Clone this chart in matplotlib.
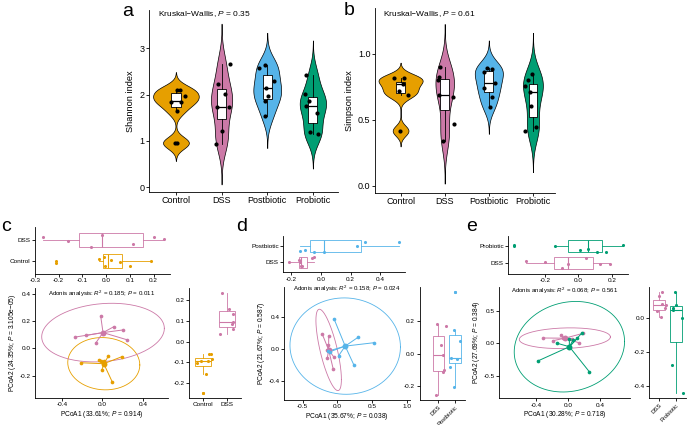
"""Alpha diversity violins (a, b) and pairwise PCoA panels (c, d, e)."""

import numpy as np
import matplotlib

matplotlib.use("Agg")
import matplotlib.pyplot as plt
from matplotlib.ticker import FormatStrFormatter

W, H = 688, 425

GROUPS = ["Control", "DSS", "Postbiotic", "Probiotic"]
COLORS = {"Control": "#E69F00", "DSS": "#CC79A7", "Postbiotic": "#56B4E9", "Probiotic": "#009E73"}

# ---- a: Shannon index (group order = GROUPS) ----
SHANNON = [
    [2.10, 2.10, 1.97, 1.85, 1.85, 1.64, 0.96, 0.95],
    [2.66, 2.22, 2.02, 1.73, 1.73, 1.21, 0.93],
    [2.58, 2.64, 2.29, 2.14, 1.98, 1.86, 1.54],
    [2.42, 2.02, 1.75, 1.87, 1.60, 1.18, 1.15],
]
SHANNON_JIT = [
    [0.09, 0.02, 0.19, -0.10, 0.12, 0.02, -0.02, 0.02],
    [0.19, -0.08, 0.07, -0.11, 0.17, 0.01, -0.12],
    [-0.18, -0.06, 0.15, -0.02, 0.01, -0.05, -0.05],
    [-0.16, -0.18, -0.16, -0.09, 0.08, -0.07, 0.12],
]
SHANNON_Q1 = [1.74, 1.47, 1.91, 1.39]
SHANNON_MED = [1.87, 1.73, 2.14, 1.75]
SHANNON_Q3 = [2.03, 2.11, 2.42, 1.94]
SHANNON_LO = [1.64, 0.93, 1.54, 1.15]
SHANNON_HI = [2.10, 2.66, 2.64, 2.42]

# ---- b: Simpson index ----
SIMPSON = [
    [0.815, 0.815, 0.772, 0.721, 0.686, 0.418],
    [0.904, 0.826, 0.803, 0.692, 0.671, 0.467, 0.340],
    [0.896, 0.886, 0.861, 0.782, 0.744, 0.676, 0.600],
    [0.846, 0.803, 0.757, 0.714, 0.605, 0.418, 0.443],
]
SIMPSON_JIT = [
    [-0.15, 0.08, 0.05, -0.04, 0.17, -0.01],
    [-0.10, -0.14, -0.15, -0.14, 0.19, 0.20, -0.05],
    [-0.04, 0.08, -0.12, 0.13, -0.10, 0.08, 0.03],
    [-0.02, -0.11, -0.17, -0.06, -0.05, -0.17, 0.08],
]
SIMPSON_Q1 = [0.706, 0.572, 0.711, 0.524]
SIMPSON_MED = [0.770, 0.689, 0.782, 0.714]
SIMPSON_Q3 = [0.790, 0.808, 0.871, 0.775]
SIMPSON_LO = [0.686, 0.340, 0.600, 0.418]
SIMPSON_HI = [0.815, 0.904, 0.896, 0.846]

# ---- c: Control vs DSS ----
C_CTRL_X = [-0.21, -0.03, -0.01, -0.003, 0.02, 0.059, 0.099, 0.191]
C_CTRL_Y = [-0.106, -0.084, -0.096, -0.157, -0.092, -0.059, -0.248, -0.062]
C_DSS_X = [-0.267, -0.161, -0.065, -0.016, 0.113, 0.201, 0.244]
C_DSS_Y = [0.083, 0.095, 0.039, 0.237, 0.159, 0.135, 0.063]
C_TOP_JIT = [[-0.10, 0.08, 0.20, -0.22, 0.03, -0.06, -0.25, 0.0],
             [0.13, -0.05, -0.35, 0.24, -0.20, 0.13, 0.03]]
C_RIGHT_JIT = [[-0.26, 0.38, 0.19, 0.12, -0.10, 0.33, -0.03, 0.26],
               [0.21, 0.28, -0.29, -0.21, 0.11, 0.26, 0.28]]

# ---- d: DSS vs Postbiotic ----
D_DSS_X = [-0.216, -0.149, -0.144, -0.134, -0.124, -0.058, -0.048]
D_DSS_Y = [0.183, -0.012, -0.112, 0.05, 0.165, -0.252, -0.103]
D_POST_X = [-0.139, -0.105, -0.048, 0.02, 0.241, 0.299, 0.53]
D_POST_Y = [-0.029, -0.034, 0.376, -0.083, -0.202, 0.145, 0.078]
D_TOP_JIT = [[0.0, 0.14, 0.04, -0.25, -0.25, 0.25, 0.30],
             [-0.31, -0.25, -0.35, -0.35, -0.03, 0.23, 0.23]]
D_RIGHT_JIT = [[-0.06, 0.26, 0.24, 0.13, 0.42, -0.12, 0.32],
               [-0.25, 0.10, 0.0, -0.29, -0.06, -0.06, 0.25]]

# ---- e: DSS vs Probiotic ----
E_DSS_X = [-0.314, -0.196, -0.095, -0.063, 0.043, 0.131, 0.188]
E_DSS_Y = [0.082, 0.04, 0.128, 0.077, 0.062, 0.009, 0.155]
E_PRO_X = [-0.385, -0.138, 0.013, 0.059, 0.113, 0.168, 0.264]
E_PRO_Y = [-0.274, 0.0, 0.062, 0.051, 0.077, 0.155, -0.44]
E_TOP_JIT = [[0.15, 0.06, -0.25, -0.04, 0.29, -0.06, -0.06],
             [0.06, 0.02, -0.23, -0.17, -0.33, -0.37, 0.06]]
E_RIGHT_JIT = [[0.20, -0.10, 0.0, 0.42, 0.36, 0.10, 0.16],
               [-0.20, 0.40, -0.14, -0.18, 0.0, -0.04, 0.45]]

# 95% quantile of F(2, n-1), used for the stat_ellipse radius
F95 = {6: 5.1433, 7: 4.7374}

plt.rcParams["font.family"] = ["Liberation Sans", "DejaVu Sans"]
plt.rcParams["mathtext.fontset"] = "custom"
plt.rcParams["mathtext.rm"] = "Liberation Sans"
plt.rcParams["mathtext.it"] = "Liberation Sans:italic"
plt.rcParams["axes.unicode_minus"] = False


def add_axes_px(fig, x0, y0, x1, y1):
    """Axes from pixel box (top-left origin)."""
    return fig.add_axes([x0 / W, 1 - y1 / H, (x1 - x0) / W, (y1 - y0) / H])


def fig_text(fig, x, y, s, **kw):
    fig.text(x / W, 1 - y / H, s, **kw)


def classic(ax, size):
    for side in ("top", "right"):
        ax.spines[side].set_visible(False)
    for side in ("left", "bottom"):
        ax.spines[side].set_linewidth(0.6)
    ax.tick_params(labelsize=size, length=2, width=0.6, pad=1.2, colors="black")


def kde_nrd0(values, q1, q3, n=300):
    """Gaussian KDE, bw.nrd0 rule (IQR taken from the box), cut = 3."""
    v = np.asarray(values, float)
    lo = min(v.std(ddof=1), (q3 - q1) / 1.34)
    bw = 0.9 * lo * len(v) ** -0.2
    grid = np.linspace(v.min() - 3 * bw, v.max() + 3 * bw, n)
    dens = np.exp(-0.5 * ((grid[:, None] - v[None, :]) / bw) ** 2).sum(1)
    return grid, dens / (len(v) * bw * np.sqrt(2 * np.pi))


def violin_panel(ax, data, jit, q1, med, q3, lo, hi, full_width=1.0):
    curves = [kde_nrd0(v, a, b) for v, a, b in zip(data, q1, q3)]
    peak = max(d.max() for _, d in curves)
    for i, (g, (grid, dens)) in enumerate(zip(GROUPS, curves)):
        half = dens / peak * full_width / 2
        ax.fill_betweenx(grid, i + 1 - half, i + 1 + half, facecolor=COLORS[g],
                         edgecolor="black", lw=0.5, zorder=1)
    stats = [dict(q1=a, med=m, q3=b, whislo=l, whishi=h)
             for a, m, b, l, h in zip(q1, med, q3, lo, hi)]
    ax.bxp(stats, positions=range(1, 5), widths=0.2, patch_artist=True,
           showfliers=False, showcaps=False, manage_ticks=False, zorder=2,
           boxprops=dict(facecolor="white", edgecolor="black", lw=0.6),
           medianprops=dict(color="black", lw=0.9),
           whiskerprops=dict(color="black", lw=0.6))
    for i, (vals, jj) in enumerate(zip(data, jit)):
        ax.scatter(i + 1 + np.array(jj), vals, s=9, color="black", lw=0, zorder=3)
    classic(ax, 6.5)
    ax.set_xticks(range(1, 5), GROUPS)


def ellipse_xy(x, y, level_f):
    cov = np.cov(x, y)
    radius = np.sqrt(2 * level_f)
    t = np.linspace(0, 2 * np.pi, 200)
    circle = np.vstack([np.cos(t), np.sin(t)])
    pts = np.linalg.cholesky(cov) @ circle * radius
    return x.mean() + pts[0], y.mean() + pts[1]


def expand(values, frac=0.05):
    lo, hi = min(values), max(values)
    pad = (hi - lo) * frac
    return lo - pad, hi + pad


def beta_panel(fig, main_px, top_px, right_px, names, xs, ys, top_jit, right_jit,
               main_xlim, main_ylim, main_xticks, main_yticks, top_xticks, right_yticks,
               right_xlim, xlabel, ylabel, adonis, adonis_frac, rotate):
    fs = 4.6
    xs = [np.array(v) for v in xs]
    ys = [np.array(v) for v in ys]

    # main ordination
    ax = add_axes_px(fig, *main_px)
    for name, x, y in zip(names, xs, ys):
        c = COLORS[name]
        cx, cy = x.mean(), y.mean()
        for xi, yi in zip(x, y):
            ax.plot([cx, xi], [cy, yi], color=c, lw=0.7, zorder=2)
        ax.scatter(x, y, s=7, color=c, lw=0, zorder=3)
        ax.scatter([cx], [cy], s=18, color=c, lw=0, zorder=3)
        ex, ey = ellipse_xy(x, y, F95[len(x) - 1])
        ax.plot(ex, ey, color=c, lw=0.6, zorder=1)
    classic(ax, fs)
    ax.set_xlim(*main_xlim)
    ax.set_ylim(*main_ylim)
    ax.set_xticks(main_xticks)
    ax.set_yticks(main_yticks)
    ax.xaxis.set_major_formatter(FormatStrFormatter("%.1f"))
    ax.yaxis.set_major_formatter(FormatStrFormatter("%.1f"))
    ax.set_xlabel(xlabel, fontsize=4.8, labelpad=1)
    ax.set_ylabel(ylabel, fontsize=4.8, labelpad=1)
    ax.text(0.5, adonis_frac, adonis, transform=ax.transAxes, ha="center",
            va="center", fontsize=4.4)

    box_kw = dict(widths=0.7, patch_artist=True, showcaps=False, manage_ticks=False)

    # PCoA1 boxplot on top
    axt = add_axes_px(fig, *top_px)
    for k, (name, x) in enumerate(zip(names, xs)):
        c = COLORS[name]
        axt.boxplot([x], positions=[k + 1], orientation="horizontal",
                    boxprops=dict(facecolor="white", edgecolor=c, lw=0.6),
                    medianprops=dict(color=c, lw=0.8),
                    whiskerprops=dict(color=c, lw=0.6),
                    flierprops=dict(marker="o", markerfacecolor=c, markeredgecolor="none",
                                    markersize=2.2), **box_kw)
        axt.scatter(x, k + 1 + np.array(top_jit[k]), s=5, color=c, lw=0, zorder=3)
    classic(axt, fs)
    axt.set_ylim(0.4, 2.6)
    axt.set_xlim(*expand(np.concatenate(xs)))
    axt.set_yticks([1, 2], names)
    axt.set_xticks(top_xticks)
    axt.xaxis.set_major_formatter(FormatStrFormatter("%.1f"))

    # PCoA2 boxplot on the right
    axr = add_axes_px(fig, *right_px)
    for k, (name, y) in enumerate(zip(names, ys)):
        c = COLORS[name]
        axr.boxplot([y], positions=[k + 1],
                    boxprops=dict(facecolor="white", edgecolor=c, lw=0.6),
                    medianprops=dict(color=c, lw=0.8),
                    whiskerprops=dict(color=c, lw=0.6),
                    flierprops=dict(marker="o", markerfacecolor=c, markeredgecolor="none",
                                    markersize=2.2), **box_kw)
        axr.scatter(k + 1 + np.array(right_jit[k]), y, s=5, color=c, lw=0, zorder=3)
    classic(axr, fs)
    axr.set_xlim(*right_xlim)
    axr.set_ylim(*expand(np.concatenate(ys)))
    axr.set_yticks(right_yticks)
    axr.yaxis.set_major_formatter(FormatStrFormatter("%.1f"))
    if rotate:
        axr.set_xticks([1, 2], names, rotation=45, ha="right", rotation_mode="anchor",
                       fontsize=4.2)
    else:
        axr.set_xticks([1, 2], names)


fig = plt.figure(figsize=(W / 100, H / 100), dpi=100)

# a
ax_a = add_axes_px(fig, 149, 10, 338, 192)
violin_panel(ax_a, SHANNON, SHANNON_JIT, SHANNON_Q1, SHANNON_MED, SHANNON_Q3,
             SHANNON_LO, SHANNON_HI)
ax_a.set_xlim(0.41, 4.55)
ax_a.set_ylim(-0.108, 3.83)
ax_a.set_yticks([0, 1, 2, 3])
ax_a.set_ylabel("Shannon index", fontsize=6.7, labelpad=3)
fig_text(fig, 158, 14.5, "Kruskal\u2212Wallis, $P$ = 0.35", fontsize=6, va="center")
fig_text(fig, 122, 16, "a", fontsize=14, va="baseline")

# b
ax_b = add_axes_px(fig, 375, 8, 555, 193)
violin_panel(ax_b, SIMPSON, SIMPSON_JIT, SIMPSON_Q1, SIMPSON_MED, SIMPSON_Q3,
             SIMPSON_LO, SIMPSON_HI)
ax_b.set_xlim(0.42, 4.5)
ax_b.set_ylim(-0.053, 1.347)
ax_b.set_yticks([0.0, 0.5, 1.0])
ax_b.yaxis.set_major_formatter(FormatStrFormatter("%.1f"))
ax_b.set_ylabel("Simpson index", fontsize=6.7, labelpad=3)
fig_text(fig, 383, 14, "Kruskal\u2212Wallis, $P$ = 0.61", fontsize=6, va="center")
fig_text(fig, 344, 15, "b", fontsize=14, va="baseline")

# c
beta_panel(fig, (35, 287.7, 168, 397.7), (35, 227.4, 170, 273.6), (189.3, 287.7, 240.7, 397.7),
           ["Control", "DSS"], [C_CTRL_X, C_DSS_X], [C_CTRL_Y, C_DSS_Y],
           C_TOP_JIT, C_RIGHT_JIT,
           (-0.665, 0.649), (-0.363, 0.446), [-0.4, 0.0, 0.4], [-0.2, 0.0, 0.2, 0.4],
           [-0.3, -0.2, -0.1, 0.0, 0.1, 0.2], [-0.2, -0.1, 0.0, 0.1, 0.2], (0.4, 2.6),
           "PCoA1 (33.61%; $P$ = 0.914)", "PCoA2 (24.35%; $P$ = 3.105e\u221205)",
           "Adonis analysis: $R^2$ = 0.185; $P$ = 0.011", 0.943, False)
fig_text(fig, 1, 231, "c", fontsize=14, va="baseline")

# d
beta_panel(fig, (284, 286.7, 410, 400), (283.3, 236.2, 405, 272.1), (419.5, 286.7, 465.4, 400),
           ["DSS", "Postbiotic"], [D_DSS_X, D_POST_X], [D_DSS_Y, D_POST_Y],
           D_TOP_JIT, D_RIGHT_JIT,
           (-0.769, 1.049), (-0.634, 0.774), [-0.5, 0.0, 0.5, 1.0], [-0.4, 0.0, 0.4],
           [-0.2, 0.0, 0.2, 0.4], [-0.2, 0.0, 0.2], (-0.13, 2.6),
           "PCoA1 (35.67%; $P$ = 0.038)", "PCoA2 (21.67%; $P$ = 0.587)",
           "Adonis analysis: $R^2$ = 0.158; $P$ = 0.024", 0.977, True)
fig_text(fig, 236, 231, "d", fontsize=14, va="baseline")

# e
beta_panel(fig, (499, 286.7, 630, 398.3), (508.3, 235.6, 628, 273.7), (649, 286.7, 685.7, 398.3),
           ["DSS", "Probiotic"], [E_DSS_X, E_PRO_X], [E_DSS_Y, E_PRO_Y],
           E_TOP_JIT, E_RIGHT_JIT,
           (-0.871, 0.775), (-0.85, 0.875), [-0.4, 0.0, 0.4], [-0.5, 0.0, 0.5],
           [-0.2, 0.0, 0.2], [-0.4, -0.2, 0.0], (0.4, 2.6),
           "PCoA1 (30.28%; $P$ = 0.718)", "PCoA2 (27.69%; $P$ = 0.384)",
           "Adonis analysis: $R^2$ = 0.068; $P$ = 0.561", 0.961, True)
fig_text(fig, 466, 231, "e", fontsize=14, va="baseline")

fig.savefig("out.png", dpi=100)
